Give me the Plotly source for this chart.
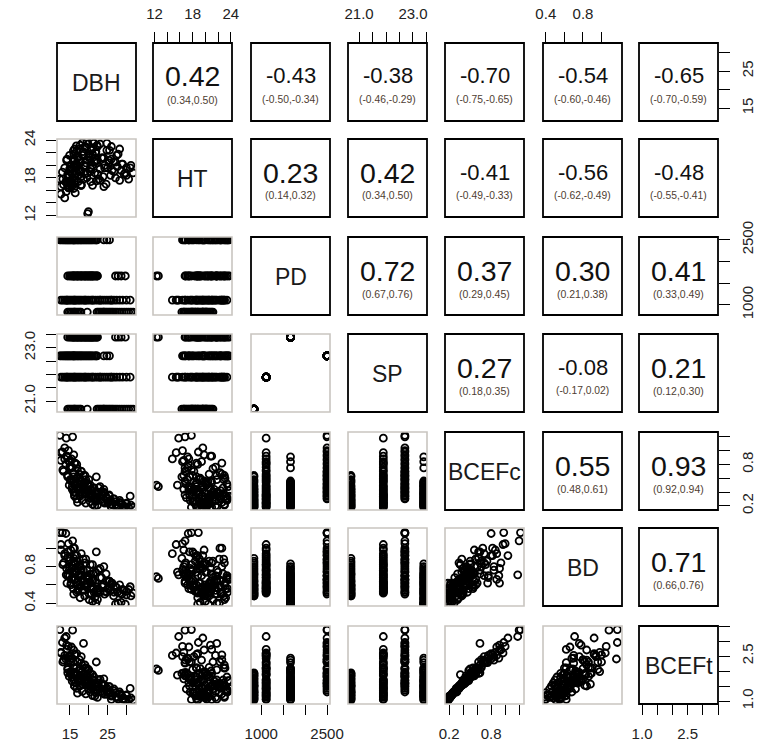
import plotly.graph_objects as go

# ---------------- data ----------------
VAR_NAMES = ["DBH", "HT", "PD", "SP", "BCEFc", "BD", "BCEFt"]

# observations grouped by stand (PD 2500 / 1667 / 1111 / 833)
DBH = [
    12.3, 12.6, 13.0, 13.3, 13.6, 13.9, 14.1, 14.4, 14.6, 14.9,
    15.1, 15.4, 15.7, 15.9, 16.2, 16.4, 16.7, 17.0, 17.2, 17.5,
    17.8, 18.0, 18.3, 18.6, 18.9, 19.2, 19.5, 19.8, 20.1, 20.4,
    20.7, 21.0, 21.4, 21.8, 22.2, 24.0, 24.8, 25.5, 22.0, 16.0,
    14.4, 14.9, 15.3, 15.6, 15.9, 16.2, 16.5, 16.8, 17.1, 17.4,
    17.7, 18.0, 18.3, 18.6, 18.9, 19.2, 19.5, 19.7, 19.9, 20.1,
    20.4, 20.7, 21.0, 21.3, 21.6, 21.9, 22.2, 22.3, 27.1, 27.8,
    28.6, 29.7, 18.0, 16.0, 20.5, 17.0, 19.0, 21.0,
    12.6, 13.1, 13.6, 14.0, 14.4, 14.8, 15.2, 15.6, 16.0, 16.4,
    16.8, 17.2, 17.6, 18.0, 18.5, 19.0, 19.5, 20.0, 20.6, 21.2,
    21.8, 22.4, 23.0, 23.6, 24.2, 24.8, 25.4, 26.0, 26.7, 27.4,
    28.2, 29.0, 30.0, 31.0, 16.2, 19.0, 21.0, 14.2, 23.0, 26.0,
    14.4, 14.8, 15.2, 15.6, 16.0, 16.4, 16.8, 17.2, 17.6, 17.9,
    19.6, 22.2, 22.6, 23.0, 23.4, 23.8, 24.2, 24.6, 25.0, 25.4,
    25.8, 26.2, 26.6, 27.1, 27.6, 28.2, 28.8, 29.4, 30.0, 30.6,
    31.2, 31.8, 24.0, 16.2,
]
HT = [
    17.8, 16.6, 18.9, 16.9, 19.6, 17.3, 20.8, 18.0, 16.4, 21.6,
    19.1, 17.4, 16.8, 22.3, 20.0, 18.6, 23.1, 21.2, 19.4, 22.6,
    20.4, 18.2, 23.6, 21.8, 19.8, 22.9, 20.9, 23.4, 21.5, 19.6,
    22.4, 23.8, 20.6, 22.0, 23.2, 21.2, 23.5, 22.4, 17.5, 19.8,
    17.2, 19.4, 16.8, 18.6, 21.0, 17.5, 20.2, 22.4, 18.3, 20.9,
    23.2, 19.1, 21.6, 17.8, 22.9, 20.4, 23.8, 12.3, 12.6, 21.2,
    19.0, 22.6, 20.0, 23.5, 18.8, 22.2, 20.8, 23.0, 20.5, 21.8,
    19.2, 18.8, 16.9, 21.8, 17.4, 19.8, 18.6, 21.8,
    15.4, 17.8, 14.8, 15.8, 18.6, 16.4, 19.8, 17.2, 20.6, 15.6,
    18.8, 21.4, 19.2, 16.8, 22.2, 20.0, 18.0, 21.8, 19.4, 22.8,
    20.6, 18.6, 23.4, 21.2, 19.6, 22.4, 20.4, 23.0, 19.0, 21.6,
    22.6, 20.2, 18.4, 19.6, 22.6, 23.0, 16.8, 21.0, 17.6, 21.0,
    16.6, 18.4, 17.2, 19.6, 16.3, 18.0, 20.2, 17.4, 19.0, 16.8,
    18.8, 20.4, 17.8, 19.4, 21.2, 18.2, 20.0, 17.0, 19.6, 20.8,
    18.4, 19.2, 20.6, 18.0, 19.8, 17.6, 20.2, 18.6, 19.6, 17.8,
    20.0, 18.8, 16.6, 21.0,
]
PD = [
    2500, 2500, 2500, 2500, 2500, 2500, 2500, 2500, 2500, 2500,
    2500, 2500, 2500, 2500, 2500, 2500, 2500, 2500, 2500, 2500,
    2500, 2500, 2500, 2500, 2500, 2500, 2500, 2500, 2500, 2500,
    2500, 2500, 2500, 2500, 2500, 2500, 2500, 2500, 2500, 2500,
    1667, 1667, 1667, 1667, 1667, 1667, 1667, 1667, 1667, 1667,
    1667, 1667, 1667, 1667, 1667, 1667, 1667, 1667, 1667, 1667,
    1667, 1667, 1667, 1667, 1667, 1667, 1667, 1667, 1667, 1667,
    1667, 1667, 1667, 1667, 1667, 1667, 1667, 1667,
    1111, 1111, 1111, 1111, 1111, 1111, 1111, 1111, 1111, 1111,
    1111, 1111, 1111, 1111, 1111, 1111, 1111, 1111, 1111, 1111,
    1111, 1111, 1111, 1111, 1111, 1111, 1111, 1111, 1111, 1111,
    1111, 1111, 1111, 1111, 1111, 1111, 1111, 1111, 1111, 1111,
    833, 833, 833, 833, 833, 833, 833, 833, 833, 833,
    833, 833, 833, 833, 833, 833, 833, 833, 833, 833,
    833, 833, 833, 833, 833, 833, 833, 833, 833, 833,
    833, 833, 833, 833,
]
SP = [
    22.7, 22.7, 22.7, 22.7, 22.7, 22.7, 22.7, 22.7, 22.7, 22.7,
    22.7, 22.7, 22.7, 22.7, 22.7, 22.7, 22.7, 22.7, 22.7, 22.7,
    22.7, 22.7, 22.7, 22.7, 22.7, 22.7, 22.7, 22.7, 22.7, 22.7,
    22.7, 22.7, 22.7, 22.7, 22.7, 22.7, 22.7, 22.7, 22.7, 22.7,
    23.4, 23.4, 23.4, 23.4, 23.4, 23.4, 23.4, 23.4, 23.4, 23.4,
    23.4, 23.4, 23.4, 23.4, 23.4, 23.4, 23.4, 23.4, 23.4, 23.4,
    23.4, 23.4, 23.4, 23.4, 23.4, 23.4, 23.4, 23.4, 23.4, 23.4,
    23.4, 23.4, 23.4, 23.4, 23.4, 23.4, 23.4, 23.4,
    21.9, 21.9, 21.9, 21.9, 21.9, 21.9, 21.9, 21.9, 21.9, 21.9,
    21.9, 21.9, 21.9, 21.9, 21.9, 21.9, 21.9, 21.9, 21.9, 21.9,
    21.9, 21.9, 21.9, 21.9, 21.9, 21.9, 21.9, 21.9, 21.9, 21.9,
    21.9, 21.9, 21.9, 21.9, 21.9, 21.9, 21.9, 21.9, 21.9, 21.9,
    20.7, 20.7, 20.7, 20.7, 20.7, 20.7, 20.7, 20.7, 20.7, 20.7,
    20.7, 20.7, 20.7, 20.7, 20.7, 20.7, 20.7, 20.7, 20.7, 20.7,
    20.7, 20.7, 20.7, 20.7, 20.7, 20.7, 20.7, 20.7, 20.7, 20.7,
    20.7, 20.7, 20.7, 20.7,
]
BCEFc = [
    1.22, 0.86, 0.98, 0.70, 1.04, 0.80, 0.92, 0.64, 1.00, 0.76,
    0.58, 0.88, 1.20, 0.68, 0.52, 0.82, 0.60, 0.74, 0.46, 0.66,
    0.55, 0.70, 0.48, 0.64, 0.40, 0.58, 0.44, 0.52, 0.36, 0.50,
    0.42, 0.34, 0.46, 0.38, 0.30, 0.40, 0.31, 0.34, 0.62, 0.94,
    0.91, 0.84, 0.75, 0.48, 0.54, 0.36, 0.50, 0.30, 0.44, 0.56,
    0.34, 0.40, 0.28, 0.46, 0.38, 0.24, 0.42, 0.50, 0.48, 0.32,
    0.26, 0.36, 0.22, 0.30, 0.20, 0.27, 0.33, 0.21, 0.22, 0.18,
    0.24, 0.19, 0.52, 0.40, 0.44, 0.25, 0.54, 0.38,
    0.97, 0.72, 0.88, 1.18, 0.62, 0.84, 0.56, 0.76, 0.66, 0.50,
    0.80, 0.44, 0.60, 0.70, 0.38, 0.54, 0.42, 0.58, 0.34, 0.46,
    0.30, 0.40, 0.28, 0.36, 0.24, 0.32, 0.26, 0.22, 0.30, 0.20,
    0.25, 0.19, 0.23, 0.34, 0.82, 0.64, 0.36, 0.92, 0.48, 0.18,
    0.64, 0.50, 0.58, 0.44, 0.62, 0.40, 0.54, 0.48, 0.36, 0.56,
    0.42, 0.30, 0.46, 0.34, 0.40, 0.26, 0.38, 0.32, 0.24, 0.36,
    0.28, 0.22, 0.30, 0.26, 0.20, 0.28, 0.22, 0.19, 0.24, 0.18,
    0.21, 0.18, 0.44, 0.34,
]
BD = [
    1.17, 0.98, 1.17, 0.84, 0.92, 1.16, 0.78, 0.96, 1.05, 0.70,
    0.88, 0.66, 1.08, 1.00, 0.74, 0.92, 0.62, 0.86, 0.70, 0.80,
    0.58, 0.94, 0.66, 0.76, 0.54, 0.88, 0.62, 0.70, 0.50, 0.82,
    0.58, 0.66, 0.52, 0.74, 0.56, 0.60, 0.52, 0.64, 0.96, 0.84,
    0.70, 0.80, 0.62, 0.74, 0.56, 0.66, 0.83, 0.52, 0.60, 0.72,
    0.46, 0.78, 0.54, 0.64, 0.48, 0.58, 0.68, 0.69, 0.67, 0.44,
    0.62, 0.50, 0.42, 0.56, 0.46, 0.40, 0.52, 0.44, 0.39, 0.40,
    0.41, 0.39, 0.76, 0.50, 0.72, 0.54, 0.60, 0.64,
    1.04, 0.82, 0.94, 0.71, 0.90, 0.76, 0.98, 0.68, 0.86, 0.74,
    0.92, 0.64, 0.80, 0.70, 0.88, 0.60, 0.76, 0.66, 0.56, 0.72,
    0.62, 0.54, 0.68, 0.58, 0.53, 0.64, 0.56, 0.60, 0.52, 0.57,
    0.51, 0.55, 0.53, 0.58, 1.00, 0.84, 0.82, 0.62, 0.78, 0.62,
    0.72, 0.86, 0.60, 0.78, 0.89, 0.66, 0.74, 0.56, 0.82, 0.64,
    0.70, 0.58, 0.76, 0.52, 0.68, 0.60, 0.50, 0.72, 0.56, 0.64,
    0.54, 0.62, 0.48, 0.58, 0.52, 0.60, 0.50, 0.54, 0.49, 0.55,
    0.48, 0.51, 0.80, 0.84,
]
BCEFt = [
    3.38, 2.62, 2.95, 2.36, 3.10, 2.40, 2.86, 2.05, 2.82, 2.52,
    1.92, 2.80, 3.36, 2.30, 1.96, 2.55, 2.10, 2.30, 1.70, 2.38,
    1.86, 2.48, 1.68, 2.92, 1.62, 2.10, 1.84, 1.80, 1.50, 1.92,
    1.58, 1.42, 1.80, 1.60, 1.36, 1.55, 1.30, 1.48, 2.30, 2.70,
    2.43, 2.36, 2.28, 1.80, 1.92, 1.50, 1.86, 1.42, 1.72, 2.00,
    1.50, 1.66, 1.32, 1.78, 1.60, 1.24, 1.68, 2.07, 2.02, 1.40,
    1.30, 1.54, 1.18, 1.36, 1.16, 1.28, 1.46, 1.12, 1.14, 1.06,
    1.20, 1.04, 1.95, 1.70, 1.62, 1.26, 2.10, 1.52,
    2.60, 2.30, 2.52, 3.15, 2.10, 2.48, 1.98, 2.42, 2.12, 1.86,
    2.58, 1.66, 2.08, 2.26, 1.56, 1.92, 1.62, 2.04, 1.48, 1.70,
    1.36, 1.60, 1.30, 1.52, 1.22, 1.44, 1.28, 1.16, 1.40, 1.12,
    1.24, 1.06, 1.18, 1.42, 2.54, 2.20, 1.88, 2.72, 1.72, 1.05,
    1.94, 1.82, 1.90, 1.66, 1.92, 1.60, 1.86, 1.76, 1.52, 1.84,
    1.62, 1.36, 1.70, 1.44, 1.56, 1.28, 1.52, 1.40, 1.22, 1.48,
    1.30, 1.18, 1.34, 1.26, 1.12, 1.30, 1.16, 1.08, 1.20, 1.05,
    1.10, 1.03, 1.74, 1.50,
]

# correlations shown in the upper panels (row-major over the upper triangle)
COR_R = [0.42, -0.43, -0.38, -0.70, -0.54, -0.65,
         0.23, 0.42, -0.41, -0.56, -0.48,
         0.72, 0.37, 0.30, 0.41,
         0.27, -0.08, 0.21,
         0.55, 0.93,
         0.71]
COR_LO = [0.34, -0.50, -0.46, -0.75, -0.60, -0.70,
          0.14, 0.34, -0.49, -0.62, -0.55,
          0.67, 0.29, 0.21, 0.33,
          0.18, -0.17, 0.12,
          0.48, 0.92,
          0.66]
COR_HI = [0.50, -0.34, -0.29, -0.65, -0.46, -0.59,
          0.32, 0.50, -0.33, -0.49, -0.41,
          0.76, 0.45, 0.38, 0.49,
          0.35, 0.02, 0.30,
          0.61, 0.94,
          0.76]

# axis ticks and labels (only some tick labels are printed)
TICK_VALS = [
    [15, 20, 25, 30],
    [12, 14, 16, 18, 20, 22, 24],
    [1000, 1500, 2000, 2500],
    [21.0, 21.5, 22.0, 22.5, 23.0, 23.5],
    [0.2, 0.4, 0.6, 0.8, 1.0, 1.2],
    [0.4, 0.6, 0.8, 1.0],
    [1.0, 1.5, 2.0, 2.5, 3.0, 3.5],
]
TICK_TEXT = [
    ["15", "", "25", ""],
    ["12", "", "", "18", "", "", "24"],
    ["1000", "", "", "2500"],
    ["21.0", "", "", "", "23.0", ""],
    ["0.2", "", "", "0.8", "", ""],
    ["0.4", "", "0.8", ""],
    ["1.0", "", "", "2.5", "", ""],
]

# ---------------- layout constants ----------------
W, H = 771, 750
COL_LEFT = [57, 153, 251, 348, 445, 543, 639]
ROW_TOP = [43, 139, 237, 334, 432, 528, 626]
PW, PH = 79, 78
RANGES = [[11.55, 32.55], [11.75, 24.2], [766, 2567], [20.59, 23.52],
          [0.14, 1.27], [0.37, 1.22], [0.9, 3.5]]
FONT = "Liberation Sans, Arial, sans-serif"
TICKFONT = dict(family=FONT, size=15, color="#222222")

COLS = [DBH, HT, PD, SP, BCEFc, BD, BCEFt]

fig = go.Figure()
lay = {}
shapes = []
annotations = []
ui = 0
for r in range(7):
    for c in range(7):
        k = r * 7 + c + 1
        s = "" if k == 1 else str(k)
        x0 = COL_LEFT[c] / W
        x1 = (COL_LEFT[c] + PW) / W
        y1 = 1 - ROW_TOP[r] / H
        y0 = 1 - (ROW_TOP[r] + PH) / H
        base = dict(showgrid=False, zeroline=False, showline=False,
                    showticklabels=False, ticks="", fixedrange=True,
                    automargin=False)
        xa = dict(base, domain=[x0, x1], range=RANGES[c], anchor="y" + s)
        ya = dict(base, domain=[y0, y1], range=RANGES[r], anchor="x" + s)
        tick_common = dict(ticks="outside", ticklen=10, tickwidth=1.3,
                           tickcolor="black", showticklabels=True,
                           tickfont=TICKFONT)
        if r == 6 and c % 2 == 0:
            xa.update(tick_common, side="bottom", tickvals=TICK_VALS[c],
                      ticktext=TICK_TEXT[c], ticklabelstandoff=6)
        if r == 0 and c % 2 == 1:
            xa.update(tick_common, side="top", tickvals=TICK_VALS[c],
                      ticktext=TICK_TEXT[c], ticklabelstandoff=7)
        if c == 0 and r % 2 == 1:
            ya.update(tick_common, side="left", tickvals=TICK_VALS[r],
                      ticktext=TICK_TEXT[r], tickangle=-90,
                      ticklabelstandoff=5)
        if c == 6 and r % 2 == 0:
            ya.update(tick_common, side="right", tickvals=TICK_VALS[r],
                      ticktext=TICK_TEXT[r], tickangle=-90, ticklen=11,
                      ticklabelstandoff=5)
        lay["xaxis" + s] = xa
        lay["yaxis" + s] = ya

        xc = (COL_LEFT[c] + PW / 2) / W
        if r > c:
            fig.add_trace(go.Scatter(
                x=COLS[c], y=COLS[r], mode="markers",
                marker=dict(symbol="circle-open", size=7, color="black",
                            line=dict(width=1.8, color="black")),
                xaxis="x" + s, yaxis="y" + s, hoverinfo="skip",
                showlegend=False))
            shapes.append(dict(type="rect", xref="paper", yref="paper",
                               x0=x0, x1=x1, y0=y0, y1=y1,
                               line=dict(color="#c9c5c0", width=1.6)))
        else:
            fig.add_trace(go.Scatter(x=[None], y=[None], mode="markers",
                                     xaxis="x" + s, yaxis="y" + s,
                                     hoverinfo="skip", showlegend=False))
            shapes.append(dict(type="rect", xref="paper", yref="paper",
                               x0=x0, x1=x1, y0=y0, y1=y1,
                               line=dict(color="black", width=1.8)))
            if r == c:
                annotations.append(dict(
                    x=xc, y=1 - (ROW_TOP[r] + 40) / H, xref="paper",
                    yref="paper", text=VAR_NAMES[r], showarrow=False,
                    xanchor="center", yanchor="middle",
                    font=dict(family=FONT, size=23, color="#1a1a1a")))
            else:
                v = COR_R[ui]
                lo = COR_LO[ui]
                hi = COR_HI[ui]
                ui += 1
                big = v > 0
                annotations.append(dict(
                    x=xc, y=1 - (ROW_TOP[r] + (33.5 if big else 33.0)) / H,
                    xref="paper", yref="paper", text=f"{v:.2f}",
                    showarrow=False, xanchor="center", yanchor="middle",
                    font=dict(family=FONT, size=28.5 if big else 22,
                              color="#111111")))
                annotations.append(dict(
                    x=xc, y=1 - (ROW_TOP[r] + 56.5) / H,
                    xref="paper", yref="paper", text=f"({lo:.2f},{hi:.2f})",
                    showarrow=False, xanchor="center", yanchor="middle",
                    font=dict(family=FONT, size=10.5 if big else 10.3,
                              color="#4e3d31")))

fig.update_layout(
    width=W, height=H,
    margin=dict(l=0, r=0, t=0, b=0),
    paper_bgcolor="white", plot_bgcolor="white",
    shapes=shapes, annotations=annotations, showlegend=False,
    **lay,
)

fig.write_html("out.html", config={"displayModeBar": False},
               post_script="document.body.style.margin='0';")
